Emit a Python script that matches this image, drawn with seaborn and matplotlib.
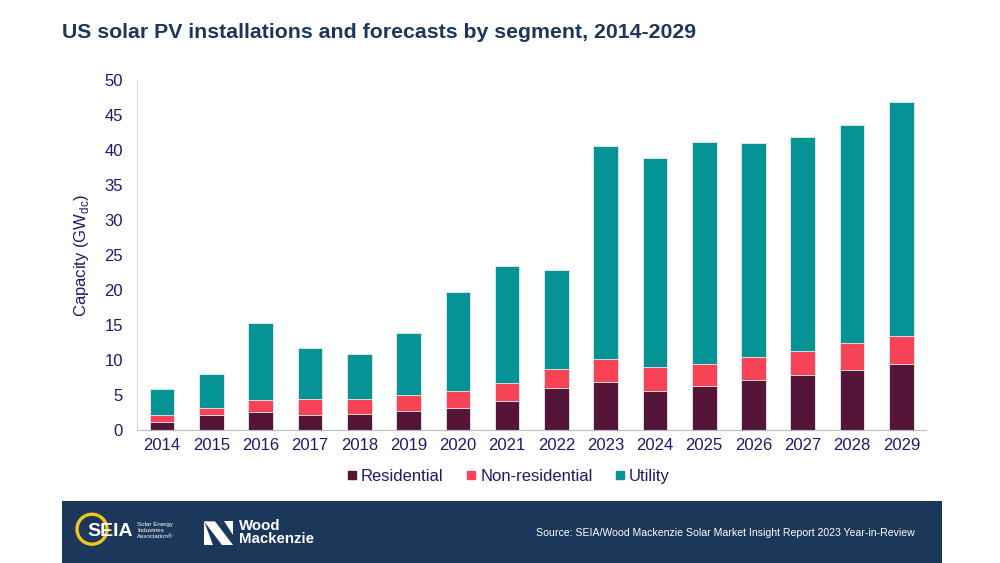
"""
US solar PV installations and forecasts by segment, 2014-2029
"""
import numpy as np
import pandas as pd
import matplotlib
matplotlib.use('Agg')
import matplotlib.pyplot as plt
from matplotlib.patches import Rectangle, Ellipse, Polygon
from matplotlib.lines import Line2D
import seaborn as sns

# Data (GWdc)
years = [str(y) for y in range(2014, 2030)]
residential = [1.2, 2.1, 2.6, 2.1, 2.3, 2.8, 3.2, 4.1, 6.0, 6.9, 5.6, 6.3, 7.2, 7.9, 8.6, 9.4]
non_residential = [1.0, 1.1, 1.7, 2.4, 2.2, 2.2, 2.4, 2.7, 2.7, 3.2, 3.4, 3.2, 3.3, 3.4, 3.8, 4.1]
utility = [3.7, 4.8, 11.0, 7.2, 6.3, 8.8, 14.1, 16.6, 14.1, 30.5, 29.9, 31.6, 30.5, 30.5, 31.1, 33.3]
segments = ['Residential', 'Non-residential', 'Utility']
colors = ['#541539', '#F84357', '#069395']

TEXT = '#1c1a6b'
NAVY = '#1b3759'

sns.set_style("white")
plt.rcParams['font.family'] = ['Liberation Sans', 'DejaVu Sans']

df = pd.DataFrame({'Year': years, 'Residential': residential,
                   'Non-residential': non_residential, 'Utility': utility})
df['cum_res'] = df['Residential']
df['cum_nonres'] = df['cum_res'] + df['Non-residential']
df['cum_util'] = df['cum_nonres'] + df['Utility']

fig = plt.figure(figsize=(10, 5.63), dpi=100)
ax = fig.add_axes([0.137, 0.236, 0.789, 0.622])

# stacked bars: draw cumulative totals from the top down
for col, c in zip(['cum_util', 'cum_nonres', 'cum_res'], colors[::-1]):
    sns.barplot(data=df, x='Year', y=col, color=c, width=0.5, ax=ax,
                saturation=1, edgecolor='#e8eef0', linewidth=0.6)

ax.set_ylim(0, 50)
ax.set_xlim(-0.51, 15.5)
ax.set_yticks(np.arange(0, 51, 5))
ax.set_xlabel('')
ax.set_ylabel('Capacity (GW$_{\\mathregular{dc}}$)', fontsize=12, color=TEXT, labelpad=10)
ax.tick_params(axis='x', length=0, labelsize=12, labelcolor=TEXT, pad=6)
ax.tick_params(axis='y', length=0, labelsize=12, labelcolor=TEXT, pad=10)
for s in ['top', 'right']:
    ax.spines[s].set_visible(False)
ax.spines['left'].set_color('#d9d9d9')
ax.spines['bottom'].set_color('#bfbfbf')

fig.text(0.062, 0.943, 'US solar PV installations and forecasts by segment, 2014-2029',
         fontsize=15.3, fontweight='bold', color=NAVY, va='center', ha='left')

handles = [Line2D([0], [0], marker='s', linestyle='', markersize=5.5,
                  markerfacecolor=c, markeredgecolor=c) for c in colors]
fig.legend(handles, segments, loc='center', bbox_to_anchor=(0.508, 0.154), ncol=3,
           frameon=False, fontsize=12, labelcolor=TEXT, handletextpad=0.2,
           columnspacing=1.3, handlelength=0.7)

# footer band
fig.patches.append(Rectangle((0.062, 0.0), 0.88, 0.11, transform=fig.transFigure,
                             facecolor=NAVY, edgecolor='none', zorder=0))
fig.text(0.915, 0.053, 'Source: SEIA/Wood Mackenzie Solar Market Insight Report 2023 Year-in-Review',
         fontsize=7.6, color='white', ha='right', va='center')

# SEIA logo (approximation)
fig.patches.append(Ellipse((0.092, 0.06), 0.03, 0.03 * 1000 / 563, transform=fig.transFigure,
                           facecolor='none', edgecolor='#f5c518', linewidth=2.4, zorder=2))
fig.text(0.087, 0.056, 'SEIA', fontsize=14, fontweight='bold', color='white',
         ha='left', va='center', zorder=3)
fig.text(0.137, 0.058, 'Solar Energy\nIndustries\nAssociation®', fontsize=4.5,
         color='white', ha='left', va='center', linespacing=1.2)

# Wood Mackenzie logo (approximation)
fig.patches.append(Polygon([(0.204, 0.074), (0.215, 0.074), (0.233, 0.032), (0.222, 0.032)],
                           closed=True, transform=fig.transFigure, facecolor='white', edgecolor='none'))
fig.patches.append(Polygon([(0.204, 0.074), (0.204, 0.032), (0.213, 0.032)],
                           closed=True, transform=fig.transFigure, facecolor='white', edgecolor='none'))
fig.patches.append(Polygon([(0.224, 0.074), (0.233, 0.074), (0.233, 0.05)],
                           closed=True, transform=fig.transFigure, facecolor='white', edgecolor='none'))
fig.text(0.239, 0.054, 'Wood\nMackenzie', fontsize=10.8, fontweight='bold', color='white',
         ha='left', va='center', linespacing=0.9)

plt.savefig('out.png', dpi=100)
plt.close()
